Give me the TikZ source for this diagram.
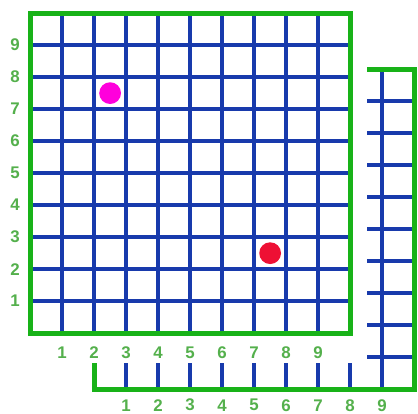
\documentclass[tikz,border=0pt]{standalone}
\usepackage{fontspec}
\setmainfont{Liberation Sans}
\usepackage{tikz}
\definecolor{gridgreen}{RGB}{24,178,24}
\definecolor{labelgreen}{RGB}{84,176,76}
\definecolor{gridblue}{RGB}{24,58,172}
\definecolor{dotmagenta}{RGB}{255,0,220}
\definecolor{dotred}{RGB}{238,16,52}

\begin{document}
\begin{tikzpicture}[
    every node/.style={font=\fontsize{15}{15}\selectfont\bfseries, text=labelgreen},
    border/.style={draw=gridgreen, line width=4.4pt},
    gridline/.style={draw=gridblue, line width=3.2pt},
    dot/.style={circle, minimum size=0.68cm, inner sep=0pt}
]
\useasboundingbox (-0.94,-2.5) rectangle (12.12,10.41);

% Back grid
\foreach \i in {3,...,11} {
    \draw[gridline] (\i,-1.75) -- (\i,8.25);
}
\foreach \j in {1,...,9} {
    \draw[gridline] (2,\j-1.75) -- (12,\j-1.75);
}
\draw[border] (2,-1.75) rectangle (12,8.25);
\foreach \i in {1,...,9} {
    \node (backx\i) at (\i+2,-2.25) {\i};
}

% Cover
\fill[white] (-0.94,-0.94) rectangle (10.53,10.41);

% Front grid
\foreach \i in {1,...,9} {
    \draw[gridline] (\i,0) -- (\i,10);
    \draw[gridline] (0,\i) -- (10,\i);
}
\draw[border] (0,0) rectangle (10,10);
\foreach \i in {1,...,9} {
    \node (frontx\i) at (\i,-0.6) {\i};
    \node (fronty\i) at (-0.47,\i) {\i};
}

% Dots
\node[dot, fill=dotmagenta] (pinkdot) at (2.5,7.5) {};
\node[dot, fill=dotred] (reddot) at (7.5,2.5) {};

\end{tikzpicture}
\end{document}
